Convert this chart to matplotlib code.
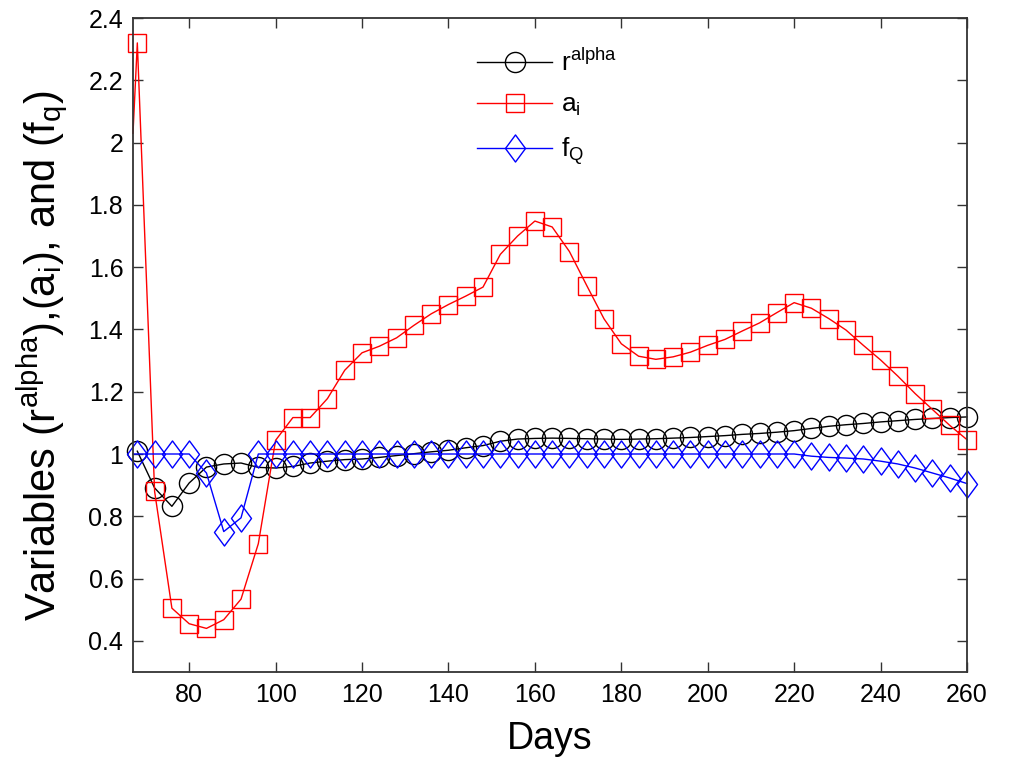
import numpy as np
import matplotlib
matplotlib.use("Agg")
import matplotlib.pyplot as plt
from matplotlib.path import Path

plt.rcParams['font.family'] = ['Liberation Sans', 'DejaVu Sans']
plt.rcParams['mathtext.fontset'] = 'custom'
plt.rcParams['mathtext.rm'] = 'Liberation Sans'
plt.rcParams['mathtext.it'] = 'Liberation Sans'
plt.rcParams['mathtext.default'] = 'regular'

# ---------------- data ----------------
days = list(range(68, 261, 4))

r_alpha = [1.009, 0.891, 0.832, 0.907, 0.958, 0.968, 0.971, 0.957, 0.955, 0.960,
           0.971, 0.977, 0.982, 0.984, 0.989, 0.995, 1.001, 1.007, 1.012, 1.020,
           1.027, 1.041, 1.048, 1.050, 1.051, 1.050, 1.049, 1.048, 1.047, 1.048,
           1.049, 1.051, 1.053, 1.056, 1.059, 1.063, 1.066, 1.070, 1.075, 1.082,
           1.089, 1.094, 1.098, 1.103, 1.107, 1.111, 1.114, 1.117, 1.119]

a_i = [2.320, 0.880, 0.505, 0.455, 0.440, 0.468, 0.534, 0.712, 1.044, 1.117,
       1.117, 1.178, 1.269, 1.325, 1.346, 1.373, 1.413, 1.450, 1.480, 1.507,
       1.536, 1.641, 1.700, 1.748, 1.729, 1.650, 1.541, 1.434, 1.354, 1.314,
       1.304, 1.312, 1.327, 1.349, 1.368, 1.395, 1.421, 1.454, 1.486, 1.468,
       1.435, 1.398, 1.349, 1.302, 1.250, 1.194, 1.143, 1.092, 1.046]

f_Q = [1.000, 1.000, 1.000, 1.000, 0.939, 0.751, 0.795, 1.000, 1.000, 1.000,
       1.000, 1.000, 1.000, 1.000, 1.000, 1.000, 1.000, 1.000, 1.000, 1.000,
       1.000, 1.000, 1.000, 1.000, 1.000, 1.000, 1.000, 1.000, 1.000, 1.000,
       1.000, 1.000, 1.000, 1.000, 1.000, 1.000, 1.000, 1.000, 1.000, 0.993,
       0.989, 0.987, 0.984, 0.977, 0.968, 0.955, 0.939, 0.923, 0.905]

# line start values on day 67 (before first marker)
start_day = 67
a_i_start = 2.03
f_Q_start = 1.0

x_ticks = [80, 100, 120, 140, 160, 180, 200, 220, 240, 260]
y_ticks = [0.4, 0.6, 0.8, 1.0, 1.2, 1.4, 1.6, 1.8, 2.0, 2.2, 2.4]
y_tick_labels = ['0.4', '0.6', '0.8', '1', '1.2', '1.4', '1.6', '1.8', '2', '2.2', '2.4']

labels = ['r$^{alpha}$', 'a$_{i}$', 'f$_{Q}$']

# ---------------- figure ----------------
W, H = 1009, 767
fig = plt.figure(figsize=(W / 100, H / 100), dpi=100)
L, R, T, B = 133, 967, 18, 672
ax = fig.add_axes([L / W, 1 - B / H, (R - L) / W, (B - T) / H])

diamond = Path([(0, -1), (0.74, 0), (0, 1), (-0.74, 0), (0, -1)],
               [Path.MOVETO, Path.LINETO, Path.LINETO, Path.LINETO, Path.CLOSEPOLY])

lw = 1.0
h1, = ax.plot(days, r_alpha, color='black', lw=lw, marker='o', ms=14.5,
              mfc='none', mec='black', mew=1.0, clip_on=False)
h2, = ax.plot([start_day] + days, [a_i_start] + a_i, color='red', lw=lw, marker='s',
              ms=12.5, mfc='none', mec='red', mew=1.0, markevery=slice(1, None), clip_on=False)
h3, = ax.plot([start_day] + days, [f_Q_start] + f_Q, color='blue', lw=lw, marker=diamond,
              ms=19.5, mfc='none', mec='blue', mew=1.0, markevery=slice(1, None), clip_on=False)

ax.set_xlim(67, 260)
ax.set_ylim(0.3, 2.4)
ax.set_xticks(x_ticks)
ax.set_yticks(y_ticks)
ax.set_yticklabels(y_tick_labels)

ax.tick_params(direction='in', length=7, width=1.0, top=True, right=True,
               labelsize=18, pad=8, colors='#333333', labelcolor='black')
ax.tick_params(axis='y', pad=7)
for s in ax.spines.values():
    s.set_linewidth(1.3)
    s.set_color('#333333')

ax.set_xlabel('Days', fontsize=27, labelpad=10)
ax.set_ylabel('Variables (r$^{alpha}$),(a$_{i}$), and (f$_{q}$)', fontsize=30)
ax.yaxis.set_label_coords(-0.075, 0.484)

leg = ax.legend([h1, h2, h3], labels, loc='upper left',
                bbox_to_anchor=(477 / W, 1 - 49 / H), bbox_transform=fig.transFigure,
                frameon=False, borderpad=0, borderaxespad=0, handlelength=2.85,
                handletextpad=0.33, labelspacing=0.65, fontsize=19)

fig.savefig('out.png', dpi=100)
